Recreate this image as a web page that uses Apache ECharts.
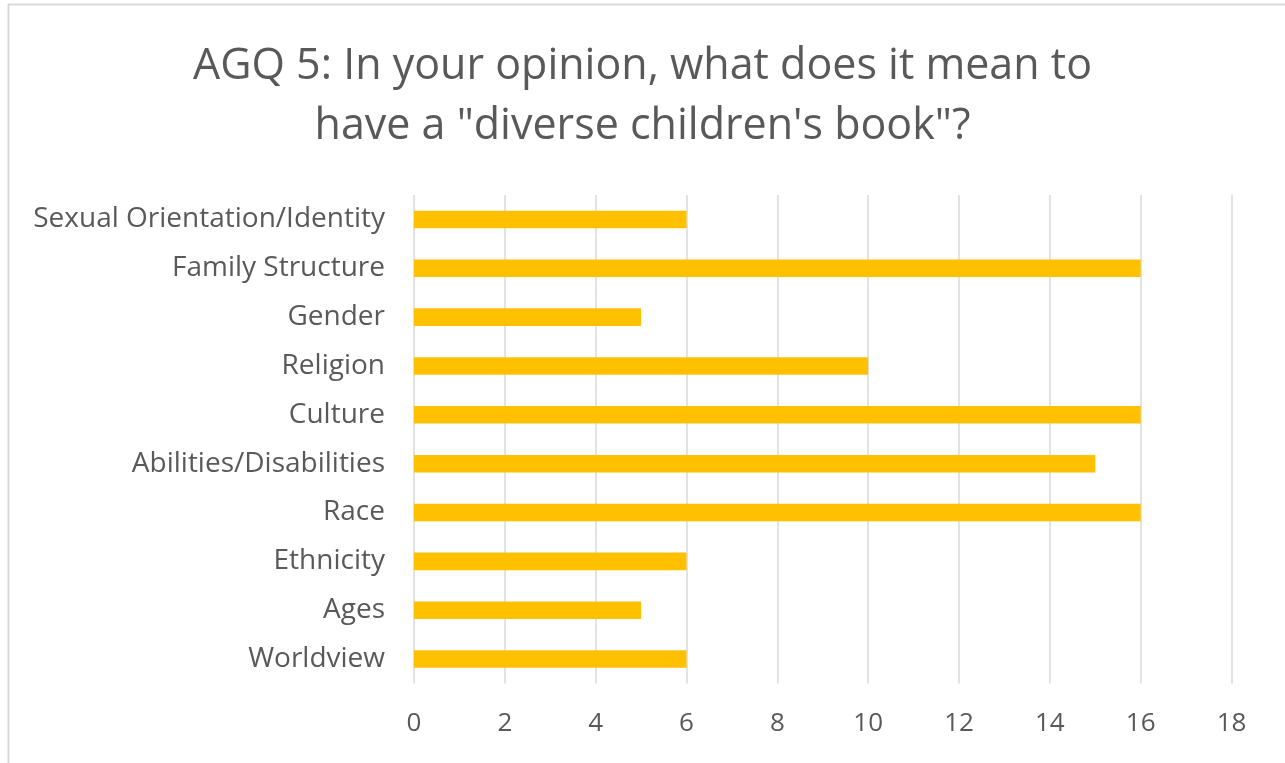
<!DOCTYPE html>
<html><head><meta charset="utf-8">
<script src="https://cdn.jsdelivr.net/npm/echarts@6/dist/echarts.min.js"></script>
<style>html,body{margin:0;padding:0;background:#fff}#c{width:1285px;height:763px}</style>
</head><body><div id="c"></div>
<script>
const titleText = 'AGQ 5: In your opinion, what does it mean to\nhave a "diverse children\'s book"?';
const categories = ['Sexual Orientation/Identity','Family Structure','Gender','Religion','Culture','Abilities/Disabilities','Race','Ethnicity','Ages','Worldview'];
const values = [6,16,5,10,16,15,16,6,5,6];
const xTicks = {min:0,max:18,interval:2};

const chart = echarts.init(document.getElementById('c'), null, {renderer:'canvas'});
const font = '"Open Sans", sans-serif';
chart.setOption({
  animation:false,
  backgroundColor:'#fff',
  title:{text:titleText,left:'center',top:32,
    textStyle:{fontFamily:font,fontSize:43,fontWeight:'normal',color:'#595959',lineHeight:60,align:'center'}},
  graphic:[
    {type:'line',shape:{x1:8,y1:4.5,x2:1285,y2:4.5},style:{stroke:'#d9d9d9',lineWidth:2}},
    {type:'line',shape:{x1:8.5,y1:4,x2:8.5,y2:763},style:{stroke:'#d9d9d9',lineWidth:2}}
  ],
  grid:{left:414,right:53.5,top:195,bottom:79.5,containLabel:false},
  xAxis:{type:'value',min:xTicks.min,max:xTicks.max,interval:xTicks.interval,
    axisLine:{show:false},axisTick:{show:false},
    splitLine:{show:true,lineStyle:{color:'#d9d9d9',width:1.5}},
    axisLabel:{fontFamily:font,fontSize:26,color:'#595959',margin:27}},
  yAxis:{type:'category',data:categories,inverse:true,
    axisLine:{show:false},axisTick:{show:false},
    axisLabel:{fontFamily:font,fontSize:28,color:'#595959',margin:29}},
  series:[{type:'bar',data:values,barWidth:'36%',itemStyle:{color:'#FFC000'}}]
});
</script></body></html>
